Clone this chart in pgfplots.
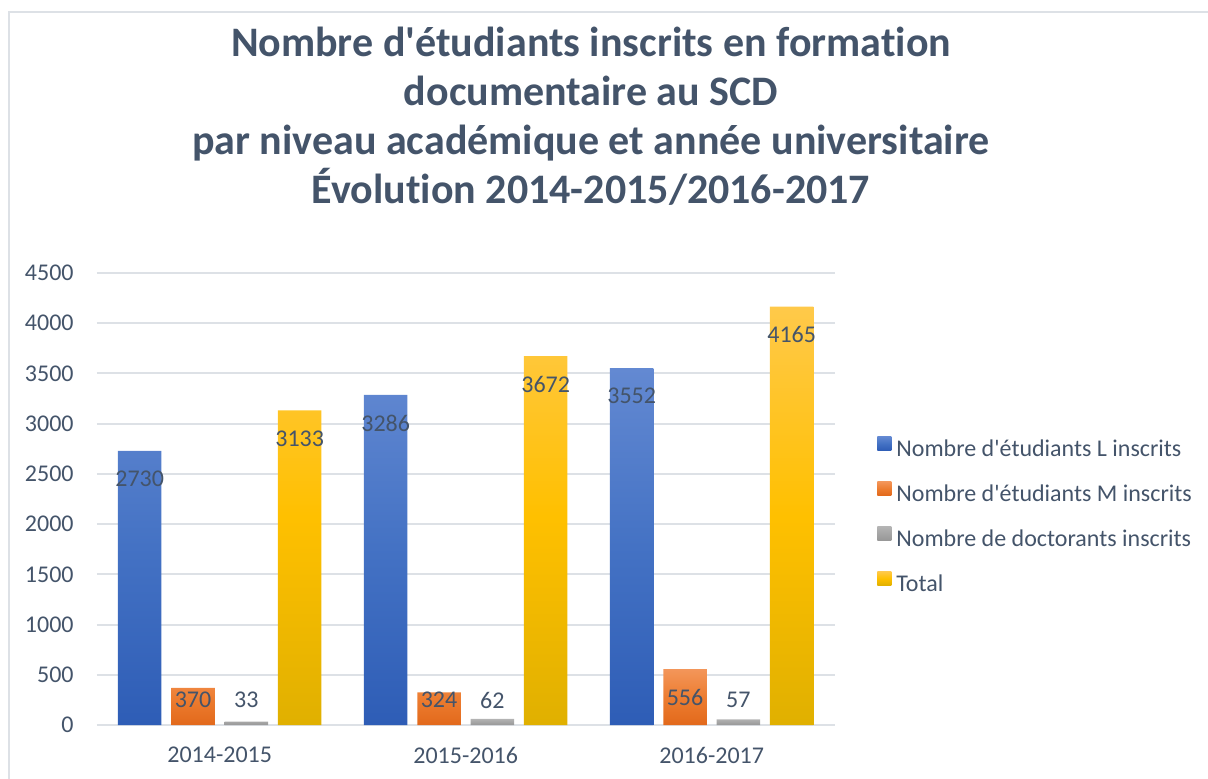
\documentclass[border=0pt]{standalone}
\usepackage{fontspec}
\setmainfont{Carlito}[Ligatures={TeXOff,CommonOff}]
\usepackage{pgfplots}
\pgfplotsset{compat=1.18}

\definecolor{txt}{HTML}{44546A}
\definecolor{gridc}{HTML}{DDE1E6}
\definecolor{framec}{HTML}{DDE1E6}
% gradient stops (top / middle / bottom)
\definecolor{blueT}{HTML}{6389D2}
\definecolor{blueM}{HTML}{4472C4}
\definecolor{blueB}{HTML}{2E5DB6}
\definecolor{oraT}{HTML}{F3965A}
\definecolor{oraM}{HTML}{ED7D31}
\definecolor{oraB}{HTML}{E2691B}
\definecolor{grayT}{HTML}{B4B4B4}
\definecolor{grayM}{HTML}{A5A5A5}
\definecolor{grayB}{HTML}{979797}
\definecolor{yelT}{HTML}{FFC94A}
\definecolor{yelM}{HTML}{FFC000}
\definecolor{yelB}{HTML}{E0B000}

\begin{document}
\begin{tikzpicture}
\useasboundingbox (0,0) rectangle (604pt,-389pt);
% chart frame
\draw[framec, line width=1pt] (4.5pt,-395pt) -- (4.5pt,-6pt) -- (610pt,-6pt);

% title
\begin{scope}[every node/.style={anchor=base, text=txt, inner sep=0pt,
    font=\fontsize{21}{24.5}\selectfont\bfseries}]
\node at (295.5pt,-28.35pt) {Nombre d'étudiants inscrits en formation};
\node at (295.5pt,-52.75pt) {documentaire au SCD};
\node at (295.5pt,-77.15pt) {par niveau académique et année universitaire};
\node at (295.5pt,-101.55pt) {Évolution 2014-2015/2016-2017};
\end{scope}

\begin{axis}[
    at={(48.35pt,-362.5pt)}, anchor=south west,
    scale only axis, width=369pt, height=226pt,
    ybar, bar width=21.75pt,
    xmin=-0.5, xmax=2.5, ymin=0, ymax=4500,
    xtick={0,1,2},
    xticklabels={2014-2015, 2015-2016, 2016-2017},
    ytick={0,500,...,4500},
    axis line style={draw=none},
    tick style={draw=none},
    ymajorgrids,
    major grid style={gridc, line width=1pt},
    /pgf/number format/.cd, 1000 sep={}, assume math mode=true, /pgfplots/.cd,
    tick label style={font=\fontsize{12}{14}\selectfont, text=txt, inner sep=0pt},
    xticklabel shift=6.5pt,
    yticklabel shift=11.35pt,
    nodes near coords,
    visualization depends on={rawy \as \rawy},
    every node near coord/.append style={font=\fontsize{12}{14}\selectfont,
        text=txt, inner sep=0pt, anchor=center,
        yshift={max(-14,12.5-\rawy*0.05022)*1pt}},
    legend image code/.code={\path[#1] (0pt,0pt) rectangle (7pt,7pt); \path (9.5pt,0pt);},
    legend cell align=left,
    legend style={at={(1.0573,0.6393)}, anchor=north west, draw=none, fill=none,
        inner sep=0pt, row sep=10.5pt, column sep=0pt,
        font=\fontsize{12}{14}\selectfont, text=txt,
        nodes={inner sep=0pt, text height=8pt, text depth=2pt}},
]
% Nombre d'etudiants L
\addplot[bar shift=-40pt, draw=none, top color=blueT, bottom color=blueB, middle color=blueM]
    coordinates {(0,2730) (1,3286) (2,3552)};
% Nombre d'etudiants M
\addplot[bar shift=-13.35pt, draw=none, top color=oraT, bottom color=oraB, middle color=oraM]
    coordinates {(0,370) (1,324) (2,556)};
% doctorants
\addplot[bar shift=13.35pt, draw=none, top color=grayT, bottom color=grayB, middle color=grayM]
    coordinates {(0,33) (1,62) (2,57)};
% Total
\addplot[bar shift=40pt, draw=none, top color=yelT, bottom color=yelB, middle color=yelM]
    coordinates {(0,3133) (1,3672) (2,4165)};
\legend{Nombre d'étudiants L inscrits, Nombre d'étudiants M inscrits,
    Nombre de doctorants inscrits, Total}
\end{axis}
\end{tikzpicture}
\end{document}
